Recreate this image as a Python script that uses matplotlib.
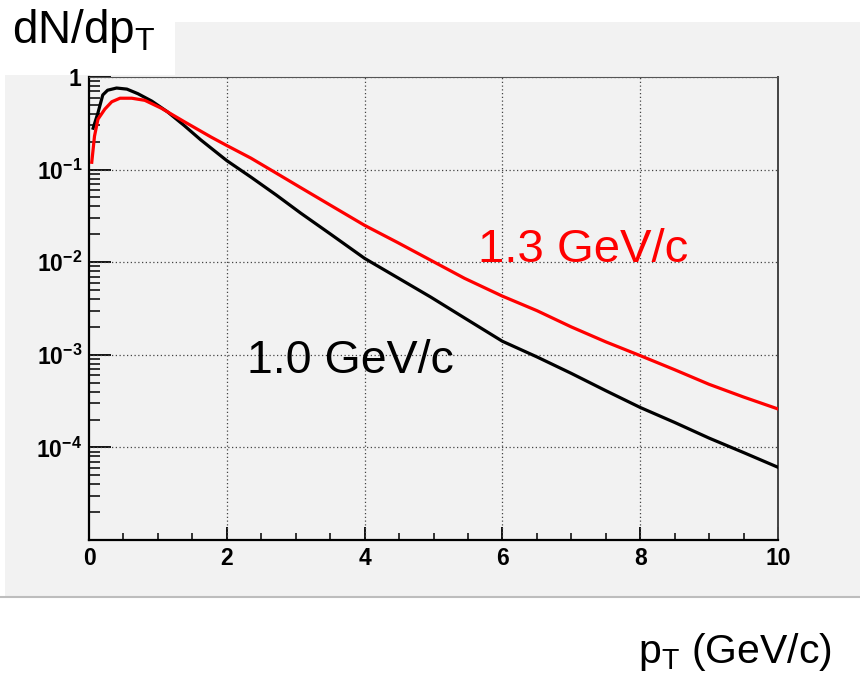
import matplotlib
matplotlib.use("Agg")
import matplotlib.pyplot as plt
from matplotlib.patches import Rectangle
from matplotlib.lines import Line2D
from matplotlib.ticker import FixedLocator, FixedFormatter, LogLocator, NullFormatter

plt.rcParams['font.family'] = ['Liberation Sans', 'DejaVu Sans']
plt.rcParams['mathtext.fontset'] = 'custom'
plt.rcParams['mathtext.rm'] = 'Liberation Sans'
plt.rcParams['mathtext.bf'] = 'Liberation Sans:bold'
plt.rcParams['mathtext.it'] = 'Liberation Sans:italic'

# ---- data ----
pt_black = [0.06, 0.13, 0.20, 0.27, 0.40, 0.55, 0.71, 0.91, 1.14, 1.38, 1.62, 2.0, 2.35, 2.72,
            3.07, 3.51, 4.0, 4.48, 4.96, 5.45, 6.0, 6.5, 7.0, 7.5, 8.0, 8.5, 9.0, 9.5, 10.0]
dn_black = [0.28, 0.41, 0.64, 0.72, 0.76, 0.74, 0.66, 0.55, 0.42, 0.30, 0.21, 0.125, 0.083, 0.053,
            0.034, 0.020, 0.011, 0.0068, 0.0042, 0.0025, 0.0014, 0.00095, 0.00063, 0.00041,
            0.00027, 0.000186, 0.000126, 0.000088, 0.000061]
pt_red = [0.04, 0.08, 0.13, 0.23, 0.33, 0.45, 0.62, 0.81, 1.05, 1.38, 1.77, 2.0, 2.35, 2.78,
          3.07, 3.51, 4.0, 4.48, 4.96, 5.45, 6.0, 6.5, 7.0, 7.5, 8.0, 8.5, 9.0, 9.5, 10.0]
dn_red = [0.12, 0.23, 0.35, 0.45, 0.54, 0.59, 0.59, 0.56, 0.46, 0.33, 0.225, 0.182, 0.133, 0.086,
          0.064, 0.041, 0.025, 0.0163, 0.0105, 0.0067, 0.0043, 0.0030, 0.0020, 0.00138,
          0.00098, 0.00069, 0.00048, 0.00035, 0.00026]
label_black = "1.0 GeV/c"
label_red = "1.3 GeV/c"
x_ticks = [0, 2, 4, 6, 8, 10]
x_ticklabels = ["0", "2", "4", "6", "8", "10"]
y_ticks = [1e-4, 1e-3, 1e-2, 1e-1, 1]
y_ticklabels = [r"$\mathbf{10^{-4}}$", r"$\mathbf{10^{-3}}$", r"$\mathbf{10^{-2}}$",
                r"$\mathbf{10^{-1}}$", r"$\mathbf{1}$"]

W, H = 860, 674
fig = plt.figure(figsize=(W / 100, H / 100), dpi=100)
fig.patch.set_facecolor('white')

def fx(px):
    return px / W

def fy(py):
    return 1 - py / H

GRAY = '#f2f2f2'
# gray canvas panel
fig.patches.append(Rectangle((fx(5), fy(597)), fx(860) - fx(5), fy(22) - fy(597),
                             transform=fig.transFigure, facecolor=GRAY, edgecolor='none', zorder=-3))
fig.lines.append(Line2D([fx(0), fx(860)], [fy(597), fy(597)], transform=fig.transFigure,
                        color='#bdbdbd', lw=1.5, zorder=-2))
# white box for y title
fig.patches.append(Rectangle((0, fy(75)), fx(175), 1 - fy(75),
                             transform=fig.transFigure, facecolor='white', edgecolor='none', zorder=-2))

ax = fig.add_axes([fx(89), fy(540), fx(778) - fx(89), fy(77) - fy(540)])
ax.set_zorder(1)
ax.set_facecolor(GRAY)
ax.set_yscale('log')
ax.set_xlim(0, 10)
ax.set_ylim(1e-5, 1)

ax.plot(pt_black, dn_black, color='black', lw=2.3, zorder=3, solid_joinstyle='round')
ax.plot(pt_red, dn_red, color='#ff0000', lw=2.3, zorder=3, solid_joinstyle='round')

# grid
grid_kw = dict(color='#444444', lw=0.9, linestyle=(0, (1, 2)), zorder=2)
for xv in x_ticks[1:]:
    ax.axvline(xv, **grid_kw)
for yv in y_ticks:
    ax.axhline(yv, **grid_kw)

for s in ['left', 'bottom']:
    ax.spines[s].set_linewidth(1.6)
    ax.spines[s].set_color('black')
ax.spines['top'].set_linewidth(0.8)
ax.spines['top'].set_color('#555555')
ax.spines['right'].set_linewidth(1.4)
ax.spines['right'].set_color('#444444')

ax.xaxis.set_major_locator(FixedLocator(x_ticks))
ax.xaxis.set_major_formatter(FixedFormatter(x_ticklabels))
ax.xaxis.set_minor_locator(FixedLocator([v * 0.5 for v in range(1, 20) if v % 4 != 0]))
ax.yaxis.set_major_locator(FixedLocator(y_ticks))
ax.yaxis.set_major_formatter(FixedFormatter(y_ticklabels))
ax.yaxis.set_minor_locator(LogLocator(base=10, subs=range(2, 10)))
ax.yaxis.set_minor_formatter(NullFormatter())

ax.tick_params(axis='x', which='major', direction='in', length=9.5, width=1.3, top=False,
               labelsize=16.5, pad=5)
ax.tick_params(axis='x', which='minor', direction='in', length=5, width=1.1, top=False)
ax.tick_params(axis='y', which='major', direction='in', length=16, width=1.3, right=False,
               labelsize=16.5, pad=5)
ax.tick_params(axis='y', which='minor', direction='in', length=8, width=1.1, right=False)
for lab in ax.get_xticklabels():
    lab.set_fontweight('bold')

fig.text(fx(247), fy(373), label_black, fontsize=33.5, color='black', va='baseline', ha='left', zorder=5)
fig.text(fx(478), fy(262), label_red, fontsize=34, color='#ff0000', va='baseline', ha='left', zorder=5)
fig.text(fx(12), fy(43), r"dN/dp$_{\mathrm{T}}$", fontsize=33, color='black', va='baseline', ha='left',
         zorder=5)
fig.text(fx(638), fy(663), r"p$_{\mathrm{T}}$ (GeV/c)", fontsize=29.5, color='black', va='baseline',
         ha='left', zorder=5)

fig.savefig('out.png', dpi=100, facecolor='white')
